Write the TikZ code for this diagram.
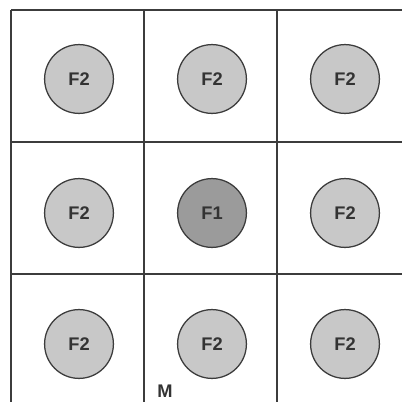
\documentclass[tikz,border=0pt]{standalone}
\usepackage{fontspec}
\setmainfont{Liberation Sans}
\definecolor{linegray}{RGB}{60,60,60}
\definecolor{fzwei}{RGB}{200,200,200}
\definecolor{feins}{RGB}{155,155,155}
\begin{document}
\begin{tikzpicture}[x=0.025cm, y=0.025cm,
	zelle/.style={circle, draw=linegray, line width=0.9pt, minimum size=1.72cm, inner sep=0pt, font=\fontsize{13}{15}\selectfont\bfseries, text=black!80},
	fzw/.style={zelle, fill=fzwei},
	fei/.style={zelle, fill=feins}]
		\useasboundingbox (0,0) rectangle (402,402);
		
		%waagrechte Striche
		\draw[linegray, line width=0.8pt] (11,392) -- (402,392);
		\draw[linegray, line width=0.8pt] (11,260) -- (402,260);
		\draw[linegray, line width=0.8pt] (11,128) -- (402,128);
		
		%senkrechte Striche
		\draw[linegray, line width=0.8pt] (11,0) -- (11,392);
		\draw[linegray, line width=0.8pt] (144,0) -- (144,392);
		\draw[linegray, line width=0.8pt] (277,0) -- (277,392);
		
		%Kreise oben
		\node[fzw] (o1) at (79,323) {F2};
		\node[fzw] (o2) at (212,323) {F2};
		\node[fzw] (o3) at (345,323) {F2};
		
		%Kreise mitte
		\node[fzw] (m1) at (79,189) {F2};
		\node[fei] (m2) at (212,189) {F1};
		\node[fzw] (m3) at (345,189) {F2};
		
		%Kreise unten
		\node[fzw] (u1) at (79,58) {F2};
		\node[fzw] (u2) at (212,58) {F2};
		\node[fzw] (u3) at (345,58) {F2};
		
		\node[font=\fontsize{13}{15}\selectfont\bfseries, text=black!80] (m) at (165,11) {M};
\end{tikzpicture}
\end{document}
